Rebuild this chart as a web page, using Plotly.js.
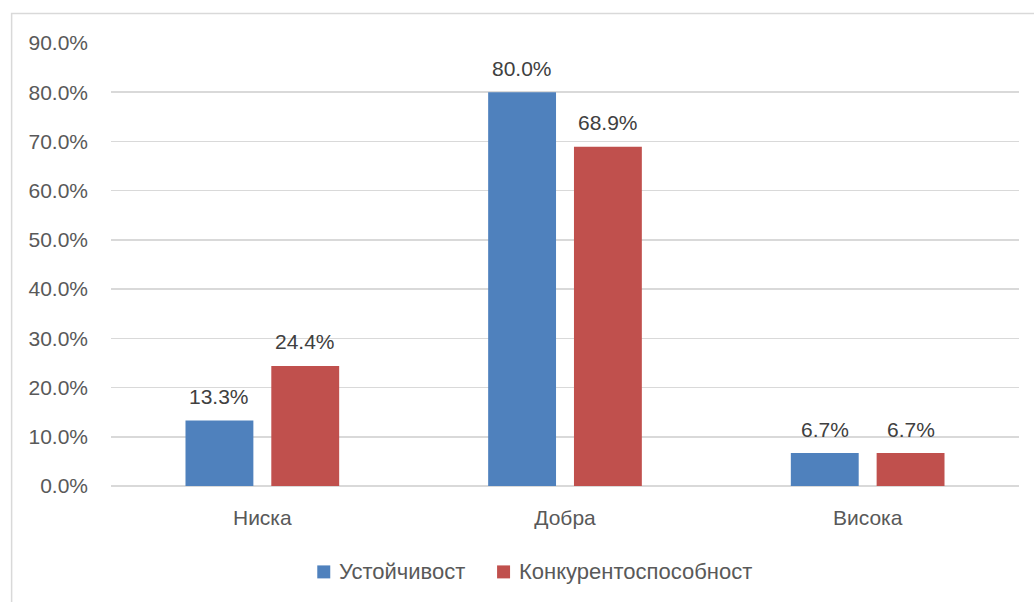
<!DOCTYPE html>
<html>
<head>
<meta charset="utf-8">
<script src="https://cdn.plot.ly/plotly-3.0.1.min.js"></script>
<style>html,body{margin:0;padding:0;background:#fff;}#chart{width:1034px;height:602px;}</style>
</head>
<body>
<div id="chart"></div>
<script>
const categories = ['Ниска', 'Добра', 'Висока'];
const seriesNames = ['Устойчивост', 'Конкурентоспособност'];
const ustoichivost = [0.133, 0.800, 0.067];
const konkurentosposobnost = [0.244, 0.689, 0.067];
const tickValues = [0, 0.1, 0.2, 0.3, 0.4, 0.5, 0.6, 0.7, 0.8, 0.9];
const colors = ['#4F81BD', '#C0504D'];

const W = 1034, H = 602;
const L = 110.5, R = 14.5, T = 42.5, B = 116;
const pw = W - L - R, ph = H - T - B;
const px = v => (v - L) / pw;
const py = v => (H - B - v) / ph;

const font = 'Liberation Sans, Arial, sans-serif';
const series = [ustoichivost, konkurentosposobnost];

const data = series.map((y, i) => ({
  type: 'bar', name: seriesNames[i], x: categories, y: y,
  marker: {color: colors[i], line: {width: 0}},
  hoverinfo: 'none', showlegend: false
}));

// data labels
const annotations = [];
series.forEach((y, i) => {
  y.forEach((v, j) => {
    annotations.push({
      x: categories[j], y: v, xref: 'x', yref: 'y',
      text: (v * 100).toFixed(1) + '%', showarrow: false,
      xshift: i === 0 ? -43 : 43, yshift: 24, yanchor: 'middle', xanchor: 'center',
      font: {family: font, size: 21, color: '#404040'}
    });
  });
});

// manual legend
const legendItems = [{sq: 317, tx: 337}, {sq: 497, tx: 517}];
const shapes = [{type: 'rect', xref: 'paper', yref: 'paper',
  x0: px(11), x1: px(1045), y0: py(615), y1: py(13),
  line: {color: '#d9d9d9', width: 1.5}, fillcolor: 'rgba(0,0,0,0)', layer: 'below'}];
legendItems.forEach((it, i) => {
  shapes.push({type: 'rect', xref: 'paper', yref: 'paper',
    x0: px(it.sq), x1: px(it.sq + 13), y0: py(578.5), y1: py(565.5),
    line: {width: 0}, fillcolor: colors[i]});
  annotations.push({xref: 'paper', yref: 'paper', x: px(it.tx), y: py(572),
    xanchor: 'left', yanchor: 'middle', showarrow: false, text: seriesNames[i],
    font: {family: font, size: 22, color: '#595959'}});
});

const layout = {
  width: W, height: H,
  margin: {l: L, r: R, t: T, b: B, pad: 0},
  paper_bgcolor: '#fff', plot_bgcolor: '#fff',
  font: {family: font, size: 21, color: '#595959'},
  barmode: 'group', bargap: 0.433, bargroupgap: 0.209,
  showlegend: false,
  xaxis: {type: 'category', showgrid: false, zeroline: false, showline: false,
          ticks: '', ticklabelstandoff: 17, tickfont: {family: font, size: 21, color: '#595959'},
          fixedrange: true},
  yaxis: {range: [0, 0.9], tickvals: tickValues, tickformat: '.1%',
          showgrid: true, gridcolor: '#d9d9d9', gridwidth: 1.5,
          zeroline: true, zerolinecolor: '#d9d9d9', zerolinewidth: 1.5,
          showline: false, ticks: '', ticklabelstandoff: 22,
          tickfont: {family: font, size: 21, color: '#595959'}, fixedrange: true},
  shapes: shapes,
  annotations: annotations
};

Plotly.newPlot('chart', data, layout, {staticPlot: true, displayModeBar: false});
</script>
</body>
</html>
